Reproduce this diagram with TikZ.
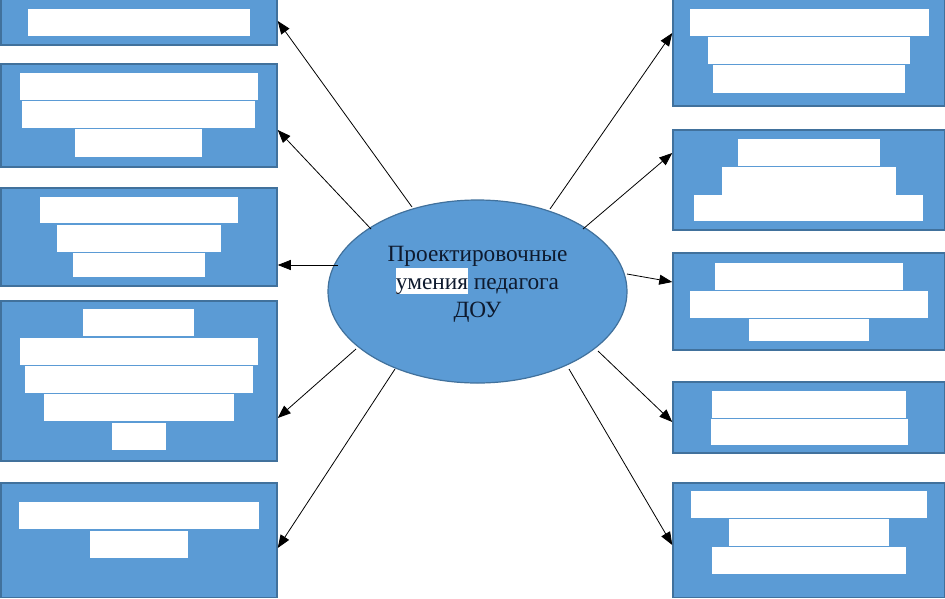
\documentclass[tikz,border=0pt]{standalone}
\usepackage{fontspec}
\setmainfont{Liberation Serif}
\usetikzlibrary{arrows.meta,shapes.geometric}
\definecolor{boxfill}{HTML}{5B9BD5}
\definecolor{boxline}{HTML}{41719C}
\definecolor{txtcol}{HTML}{0E1A2E}
\newcommand{\mybox}[5]{\node[blbox, minimum width={(#4-#2)*1pt}, minimum height={(#5-#3)*1pt}] (#1) at ({(#2+#4)/2},{(#3+#5)/2}) {};}
\newcommand{\mybar}[5]{\node[whbar, minimum width={(#4-#2)*1pt}, minimum height={(#5-#3)*1pt}] (#1) at ({(#2+#4)/2},{(#3+#5)/2}) {};}
\begin{document}
\begin{tikzpicture}[x=1pt,y=-1pt,
  blbox/.style={draw=boxline, fill=boxfill, line width=1.5pt, inner sep=0pt, rectangle},
  whbar/.style={fill=white, draw=none, inner sep=0pt, rectangle},
  arr/.style={draw=black, line width=0.8pt, -{Triangle[length=13pt,width=10pt]}},
  oval/.style={ellipse, draw=boxline, fill=boxfill, line width=1.2pt, minimum width=299pt, minimum height=183pt, inner sep=0pt}]
\useasboundingbox (0,0) rectangle (945,598);
% left boxes
\mybox{L1}{0.75}{-1}{277}{45}
\mybar{L1a}{28}{9}{250}{36}
\mybox{L2}{0.75}{64}{277}{167}
\mybar{L2a}{20}{73}{258}{100}
\mybar{L2b}{22}{101}{255}{128}
\mybar{L2c}{75}{129}{202}{157}
\mybox{L3}{0.75}{188}{277}{286}
\mybar{L3a}{40}{197}{238}{223}
\mybar{L3b}{57}{225}{221}{252}
\mybar{L3c}{73}{253}{205}{277}
\mybox{L4}{0.75}{301}{277}{461}
\mybar{L4a}{83}{309}{194}{336}
\mybar{L4b}{20}{338}{258}{365}
\mybar{L4c}{25}{366}{253}{393}
\mybar{L4d}{44}{394}{234}{421}
\mybar{L4e}{112}{423}{166}{450}
\mybox{L5}{0.75}{483}{277}{597.5}
\mybar{L5a}{19}{502}{259}{529}
\mybar{L5b}{90}{531}{188}{558}
% right boxes
\mybox{R1}{673}{-1}{944.25}{106}
\mybar{R1a}{690}{9}{929}{36}
\mybar{R1b}{708}{37}{910}{64}
\mybar{R1c}{713}{65}{905}{93}
\mybox{R2}{673}{130}{944.25}{230}
\mybar{R2a}{738}{139}{880}{166}
\mybar{R2b}{722}{167}{896}{195}
\mybar{R2c}{694}{195}{923}{221}
\mybox{R3}{673}{253}{944.25}{350}
\mybar{R3a}{715}{263}{903}{290}
\mybar{R3b}{690}{291}{928}{318}
\mybar{R3c}{749}{319}{869}{341}
\mybox{R4}{673}{382}{944.25}{453}
\mybar{R4a}{712}{391}{906}{418}
\mybar{R4b}{711}{419}{908}{445}
\mybox{R5}{673}{483}{944.25}{597.5}
\mybar{R5a}{691}{491}{927}{518}
\mybar{R5b}{729}{519}{889}{546}
\mybar{R5c}{712}{547}{906}{574}
% center ellipse
\node[oval] (C) at (477.5,291.5) {};
\node[text=txtcol, align=center, font=\fontsize{23.3}{28}\selectfont, inner sep=0pt] (T) at (477.5,284)
  {Проектировочные\\{\setlength{\fboxsep}{0pt}\colorbox{white}{\rule[-5pt]{0pt}{26pt}умения}} педагога\\ДОУ};
% connector ends
\coordinate (s1) at (412,207);
\coordinate (s2) at (371,229);
\coordinate (s3) at (338,265);
\coordinate (s4) at (356,349);
\coordinate (s5) at (395,369);
\coordinate (s6) at (550,209);
\coordinate (s7) at (583,229);
\coordinate (s8) at (627,274);
\coordinate (s9) at (598,351);
\coordinate (s10) at (569,369);
\draw[arr] (s1) -- (L1.east |- 0,21);
\draw[arr] (s2) -- (L2.east |- 0,130);
\draw[arr] (s3) -- (L3.east |- 0,265);
\draw[arr] (s4) -- (L4.east |- 0,418);
\draw[arr] (s5) -- (L5.east |- 0,548);
\draw[arr] (s6) -- (R1.west |- 0,33);
\draw[arr] (s7) -- (R2.west |- 0,153);
\draw[arr] (s8) -- (R3.west |- 0,282);
\draw[arr] (s9) -- (R4.west |- 0,422);
\draw[arr] (s10) -- (R5.west |- 0,545);
\end{tikzpicture}
\end{document}
